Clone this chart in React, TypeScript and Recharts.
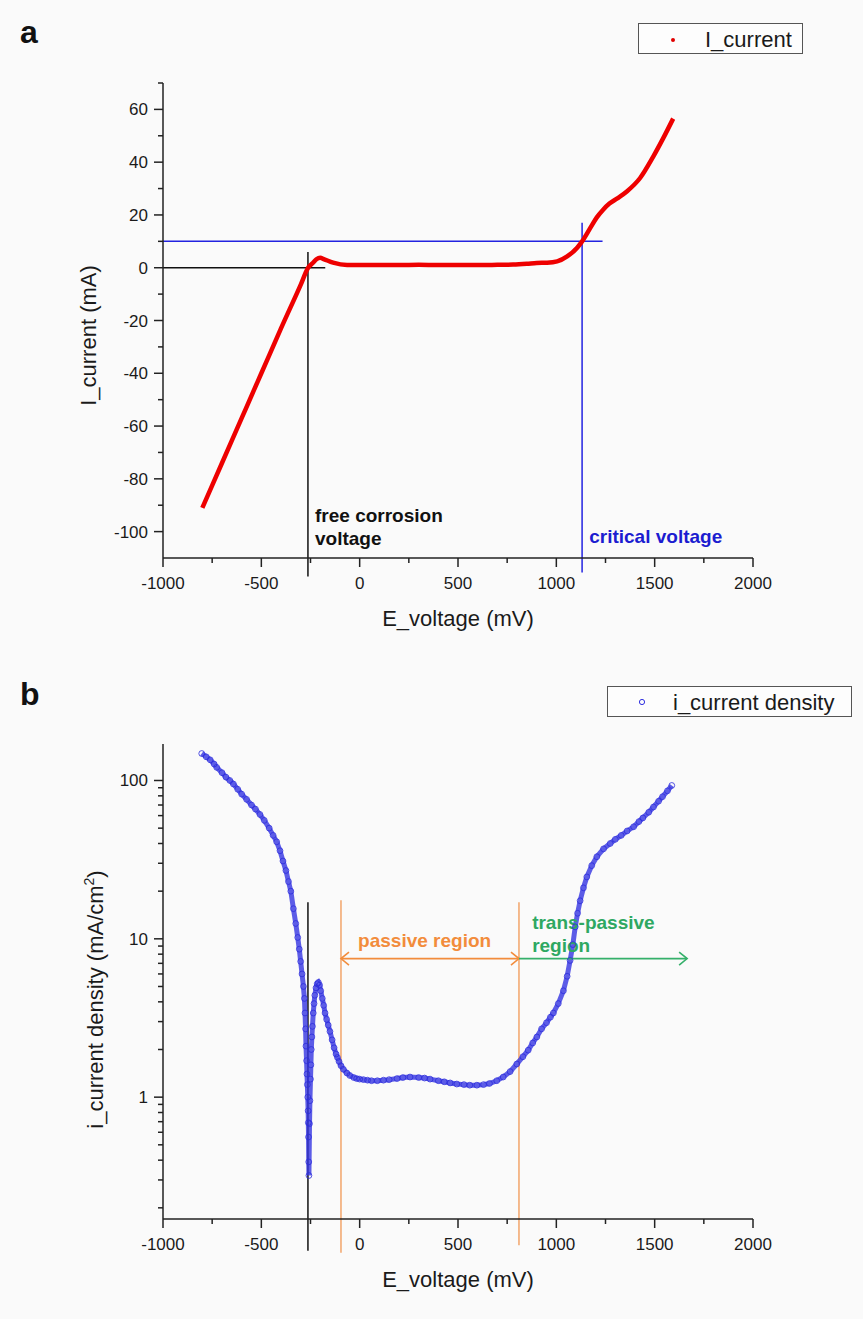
import React from 'react';
import { ComposedChart, Line, XAxis, YAxis, ReferenceLine, ReferenceDot, Legend } from 'recharts';

const FONT = 'Arial, "Liberation Sans", sans-serif';
const INK = '#1a1a1a';

// panel a: current vs voltage (linear)
const voltageA = [-800, -700, -600, -500, -400, -300, -262, -237, -220, -201, -180, -135, -64, 0, 100, 200, 300, 400, 500, 600, 700, 780, 850, 900, 953, 1004, 1055, 1106, 1131, 1172, 1205, 1238, 1270, 1310, 1360, 1426, 1492, 1543, 1594];
const currentA = [-91, -74, -57, -40, -23, -6.5, 0, 1.9, 3.2, 3.8, 3.2, 1.9, 1.0, 1.0, 1.0, 1.0, 1.1, 1.0, 1.0, 1.0, 1.1, 1.2, 1.5, 1.8, 1.9, 2.4, 4.3, 7.6, 10, 15, 19, 22, 24.3, 26.3, 29, 34, 42, 49, 56.5];

// panel b: current density (log)
const voltageB = [-803, -780, -760, -740, -727, -700, -680, -660, -642, -620, -600, -575, -550, -530, -507, -485, -460, -440, -422, -405, -390, -375, -362, -350, -337, -325, -315, -307, -300, -293, -286, -281, -278, -275, -273, -270, -268, -266, -264, -262, -261, -260, -259, -258, -255, -253, -250, -248, -246, -243, -240, -236, -232, -228, -222, -216, -210, -204, -198, -190, -183, -176, -168, -160, -151, -140, -130, -120, -113, -105, -95, -83, -65, -50, -30, -15, 0, 19, 40, 60, 90, 121, 150, 190, 220, 256, 300, 330, 358, 400, 430, 460, 494, 530, 560, 596, 630, 660, 697, 730, 765, 799, 830, 857, 880, 901, 925, 950, 970, 985, 1010, 1036, 1055, 1070, 1084, 1096, 1108, 1121, 1138, 1155, 1180, 1206, 1240, 1274, 1300, 1330, 1360, 1393, 1420, 1440, 1470, 1494, 1520, 1540, 1565, 1587];
const densityB = [148, 141, 135, 127, 121, 112, 105, 100, 95, 88, 82, 76, 70, 66, 61, 56, 50, 45, 41, 36, 31, 27, 23, 20, 15.5, 12.5, 10.2, 8.6, 7.2, 6.0, 5.0, 4.2, 3.4, 2.7, 2.1, 1.7, 1.4, 1.2, 1.0, 0.82, 0.69, 0.56, 0.39, 0.32, 0.68, 0.95, 1.3, 1.6, 2.0, 2.4, 2.8, 3.4, 3.9, 4.4, 4.9, 5.2, 5.3, 5.1, 4.7, 4.2, 3.8, 3.4, 3.1, 2.85, 2.6, 2.3, 2.05, 1.87, 1.78, 1.68, 1.58, 1.5, 1.42, 1.37, 1.33, 1.31, 1.3, 1.29, 1.28, 1.27, 1.27, 1.28, 1.29, 1.31, 1.33, 1.34, 1.33, 1.32, 1.3, 1.27, 1.25, 1.23, 1.21, 1.2, 1.19, 1.19, 1.2, 1.22, 1.27, 1.34, 1.45, 1.62, 1.8, 1.98, 2.2, 2.4, 2.7, 2.95, 3.2, 3.4, 3.9, 4.7, 5.8, 7.3, 9.2, 11.9, 14.5, 17.4, 21, 24.6, 29, 33, 37, 40, 42.5, 45, 48, 51, 55, 58, 63, 68, 74, 79, 86, 93];

const xTicks = [-1000, -750, -500, -250, 0, 250, 500, 750, 1000, 1250, 1500, 1750, 2000];
const xLabels = [-1000, -500, 0, 500, 1000, 1500, 2000];
const yTicksA = [-100, -90, -80, -70, -60, -50, -40, -30, -20, -10, 0, 10, 20, 30, 40, 50, 60, 70];
const yLabelsA = [-100, -80, -60, -40, -20, 0, 20, 40, 60];
const yTicksB = [0.2, 0.3, 0.4, 0.5, 0.6, 0.7, 0.8, 0.9, 1, 2, 3, 4, 5, 6, 7, 8, 9, 10, 20, 30, 40, 50, 60, 70, 80, 90, 100];
const yLabelsB = [1, 10, 100];

const dataA = voltageA.map((E, k) => ({ E, I: currentA[k] }));
const dataB = voltageB.map((E, k) => ({ E, i: densityB[k] }));

const makeXTick = (labels: number[]) => (props: any) => {
  const { x, y, payload } = props;
  const major = labels.includes(payload.value);
  return (
    <g>
      <line x1={x} x2={x} y1={y} y2={y + (major ? 9 : 5)} stroke="#222" strokeWidth={1.5} />
      {major && (
        <text x={x} y={y + 31} textAnchor="middle" fontSize={17} fontFamily={FONT} fill={INK}>
          {payload.value}
        </text>
      )}
    </g>
  );
};

const makeYTick = (labels: number[]) => (props: any) => {
  const { x, y, payload } = props;
  const major = labels.includes(payload.value);
  return (
    <g>
      <line x1={x} x2={x - (major ? 9 : 5)} y1={y} y2={y} stroke="#222" strokeWidth={1.5} />
      {major && (
        <text x={x - 15} y={y + 6} textAnchor="end" fontSize={17} fontFamily={FONT} fill={INK}>
          {payload.value}
        </text>
      )}
    </g>
  );
};

const xLabel = (p: any) => {
  const { x, y, width } = p.viewBox;
  return (
    <text x={x + width / 2} y={y + 68} textAnchor="middle" fontSize={22} fontFamily={FONT} fill={INK}>
      E_voltage (mV)
    </text>
  );
};

const yLabelA = (p: any) => {
  const { x, y, height } = p.viewBox;
  const cx = x + 96;
  const cy = y + height / 2 + 15;
  return (
    <text x={cx} y={cy} transform={`rotate(-90 ${cx} ${cy})`} textAnchor="middle" fontSize={22} fontFamily={FONT} fill={INK}>
      I_current (mA)
    </text>
  );
};

const yLabelB = (p: any) => {
  const { x, y, height } = p.viewBox;
  const cx = x + 103;
  const cy = y + height / 2 + 18;
  return (
    <text x={cx} y={cy} transform={`rotate(-90 ${cx} ${cy})`} textAnchor="middle" fontSize={22} fontFamily={FONT} fill={INK}>
      i_current density (mA/cm<tspan fontSize={14} dy={-9}>2</tspan>
      <tspan dy={9}>)</tspan>
    </text>
  );
};

const arrowShape = (color: string, bothEnds: boolean) => (p: any) => {
  const { x1, y1, x2, y2 } = p;
  const h = 8;
  return (
    <g stroke={color} strokeWidth={1.6} fill="none">
      <line x1={x1} y1={y1} x2={x2} y2={y2} />
      <polyline points={`${x2 - h},${y2 - h * 0.8} ${x2},${y2} ${x2 - h},${y2 + h * 0.8}`} />
      {bothEnds && <polyline points={`${x1 + h},${y1 - h * 0.8} ${x1},${y1} ${x1 + h},${y1 + h * 0.8}`} />}
    </g>
  );
};

const note = (lines: string[], color: string) => (p: any) => (
  <text x={p.cx} y={p.cy} fontSize={19} fontWeight="bold" fontFamily={FONT} fill={color}>
    {lines.map((t, k) => (
      <tspan key={t} x={p.cx} dy={k === 0 ? 0 : 23}>
        {t}
      </tspan>
    ))}
  </text>
);

const legendA = () => (
  <svg width={165} height={31}>
    <rect x={0.5} y={0.5} width={164} height={30} fill="#fdfdfd" stroke="#555" />
    <circle cx={35} cy={17} r={2} fill="#e00000" />
    <text x={67} y={24} fontSize={22} fontFamily={FONT} fill={INK}>I_current</text>
  </svg>
);

const legendB = () => (
  <svg width={245} height={31}>
    <rect x={0.5} y={0.5} width={244} height={30} fill="#fdfdfd" stroke="#555" />
    <circle cx={35} cy={16} r={2.6} fill="none" stroke="#3030e0" strokeWidth={1} />
    <text x={66} y={24} fontSize={22} fontFamily={FONT} fill={INK}>i_current density</text>
  </svg>
);

const axisLine = { stroke: '#222', strokeWidth: 1.5 };

export default function App() {
  return (
    <div style={{ position: 'absolute', left: 0, top: 0, width: 863, height: 1319, background: '#fafafa', fontFamily: FONT }}>
      <div style={{ position: 'absolute', left: 0, top: 0 }}>
        <ComposedChart width={863} height={650} data={dataA} margin={{ top: 83, right: 110, bottom: 22, left: 0 }}>
          <XAxis
            dataKey="E"
            type="number"
            domain={[-1000, 2000]}
            allowDataOverflow
            ticks={xTicks}
            interval={0}
            tickSize={0}
            tickMargin={0}
            tickLine={false}
            tick={makeXTick(xLabels)}
            axisLine={axisLine}
            height={70}
            label={xLabel}
          />
          <YAxis
            type="number"
            domain={[-110, 70]}
            allowDataOverflow
            ticks={yTicksA}
            interval={0}
            tickSize={0}
            tickMargin={0}
            tickLine={false}
            tick={makeYTick(yLabelsA)}
            axisLine={axisLine}
            width={163}
            label={yLabelA}
          />
          <Legend verticalAlign="middle" align="center" layout="horizontal" content={legendA} wrapperStyle={{ left: 638, top: 23, width: 165, height: 31 }} />
          <ReferenceLine segment={[{ x: -1000, y: 0 }, { x: -175, y: 0 }]} stroke="#111" strokeWidth={1.5} ifOverflow="visible" />
          <ReferenceLine segment={[{ x: -263, y: 6 }, { x: -263, y: -117 }]} stroke="#111" strokeWidth={1.5} ifOverflow="visible" />
          <ReferenceLine segment={[{ x: -1000, y: 10 }, { x: 1235, y: 10 }]} stroke="#2323e0" strokeWidth={1.5} ifOverflow="visible" />
          <ReferenceLine segment={[{ x: 1131, y: 17 }, { x: 1131, y: -115.5 }]} stroke="#2323e0" strokeWidth={1.5} ifOverflow="visible" />
          <Line dataKey="I" type="monotone" stroke="#ee0000" strokeWidth={4.5} dot={false} isAnimationActive={false} />
          <ReferenceDot x={-227} y={-96.4} r={0} ifOverflow="visible" shape={note(['free corrosion', 'voltage'], '#111')} />
          <ReferenceDot x={1167} y={-104.4} r={0} ifOverflow="visible" shape={note(['critical voltage'], '#1c1cd0')} />
        </ComposedChart>
      </div>

      <div style={{ position: 'absolute', left: 0, top: 650 }}>
        <ComposedChart width={863} height={669} data={dataB} margin={{ top: 94, right: 110, bottom: 30, left: 0 }}>
          <XAxis
            dataKey="E"
            type="number"
            domain={[-1000, 2000]}
            allowDataOverflow
            ticks={xTicks}
            interval={0}
            tickSize={0}
            tickMargin={0}
            tickLine={false}
            tick={makeXTick(xLabels)}
            axisLine={axisLine}
            height={70}
            label={xLabel}
          />
          <YAxis
            type="number"
            scale="log"
            domain={[0.17, 170]}
            allowDataOverflow
            ticks={yTicksB}
            interval={0}
            tickSize={0}
            tickMargin={0}
            tickLine={false}
            tick={makeYTick(yLabelsB)}
            axisLine={axisLine}
            width={163}
            label={yLabelB}
          />
          <Legend verticalAlign="middle" align="center" layout="horizontal" content={legendB} wrapperStyle={{ left: 607, top: 36, width: 245, height: 31 }} />
          <ReferenceLine segment={[{ x: -263, y: 17 }, { x: -263, y: 0.107 }]} stroke="#111" strokeWidth={1.5} ifOverflow="visible" />
          <ReferenceLine segment={[{ x: -95, y: 17.5 }, { x: -95, y: 0.104 }]} stroke="#f2a56a" strokeWidth={1.5} ifOverflow="visible" />
          <ReferenceLine segment={[{ x: 810, y: 17 }, { x: 810, y: 0.116 }]} stroke="#f2a56a" strokeWidth={1.5} ifOverflow="visible" />
          <Line
            dataKey="i"
            type="linear"
            stroke="#3434e2"
            strokeOpacity={0.8}
            strokeWidth={5}
            dot={{ r: 2.9, stroke: '#2c2cdc', strokeWidth: 1, fill: 'none' }}
            isAnimationActive={false}
          />
          <ReferenceLine segment={[{ x: -95, y: 7.5 }, { x: 810, y: 7.5 }]} ifOverflow="visible" shape={arrowShape('#f28c3c', true)} />
          <ReferenceLine segment={[{ x: 810, y: 7.5 }, { x: 1665, y: 7.5 }]} ifOverflow="visible" shape={arrowShape('#35b06a', false)} />
          <ReferenceDot x={-8} y={8.83} r={0} ifOverflow="visible" shape={note(['passive region'], '#f28c3c')} />
          <ReferenceDot x={877} y={11.6} r={0} ifOverflow="visible" shape={note(['trans-passive', 'region'], '#2ea862')} />
        </ComposedChart>
      </div>

      <svg width={863} height={1319} style={{ position: 'absolute', left: 0, top: 0, pointerEvents: 'none' }}>
        <text x={20} y={43} fontSize={32} fontWeight="bold" fontFamily={FONT} fill="#111">a</text>
        <text x={20} y={705} fontSize={32} fontWeight="bold" fontFamily={FONT} fill="#111">b</text>
      </svg>
    </div>
  );
}
